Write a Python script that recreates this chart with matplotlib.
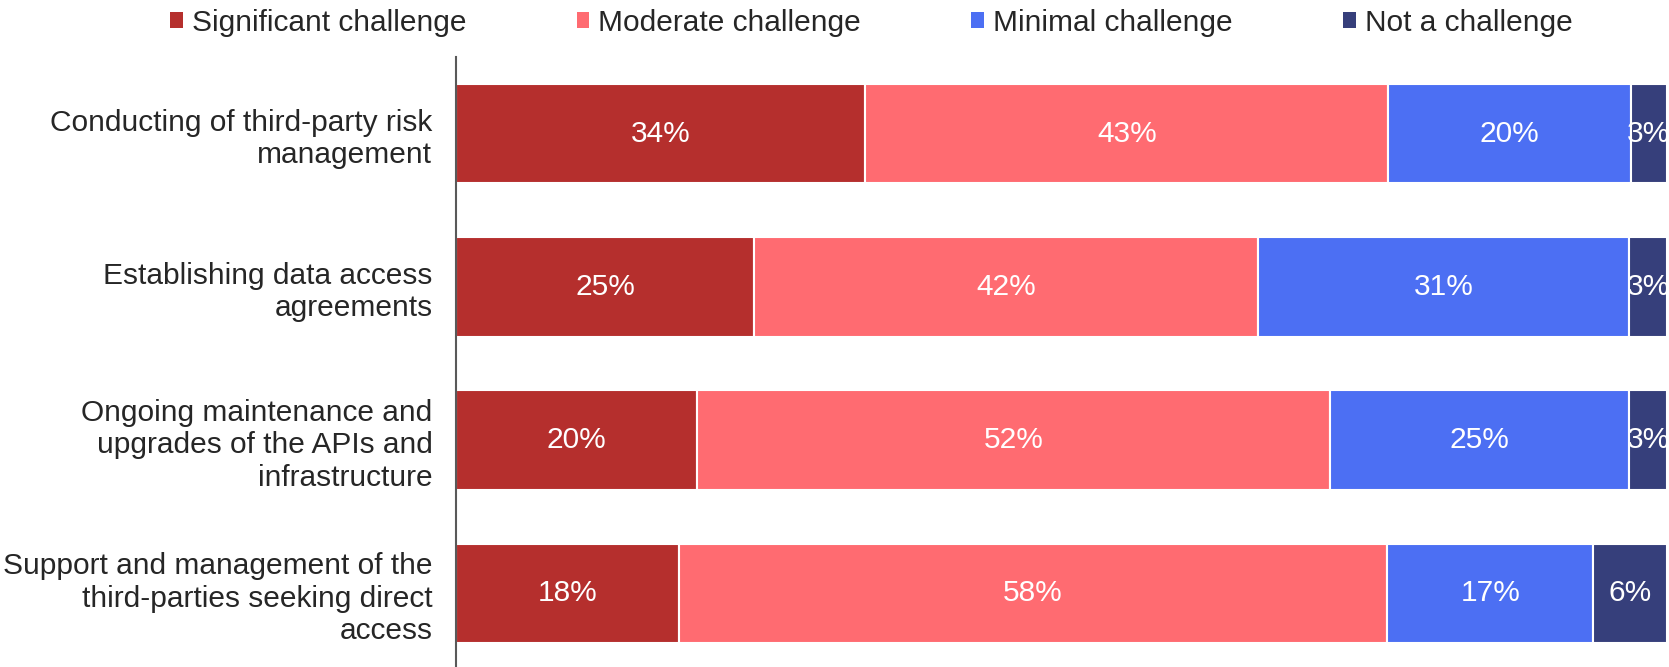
import matplotlib
matplotlib.use("Agg")
import matplotlib.pyplot as plt
from matplotlib.patches import Patch

plt.rcParams["font.family"] = ["Liberation Sans", "DejaVu Sans"]

categories = [
    "Conducting of third-party risk\nmanagement",
    "Establishing data access\nagreements",
    "Ongoing maintenance and\nupgrades of the APIs and\ninfrastructure",
    "Support and management of the\nthird-parties seeking direct\naccess",
]
series_names = ["Significant challenge", "Moderate challenge",
                "Minimal challenge", "Not a challenge"]
significant = [33.8, 24.6, 19.9, 18.4]
moderate = [43.2, 41.6, 52.3, 58.5]
minimal = [20.0, 30.7, 24.7, 17.0]
not_a_challenge = [3.0, 3.1, 3.1, 6.1]
colors = ["#B52F2D", "#FF6B71", "#4C6FF3", "#363F7B"]

series = [significant, moderate, minimal, not_a_challenge]

W, H = 1669, 667
fig = plt.figure(figsize=(W / 100, H / 100), dpi=100)
ax = fig.add_axes([456 / W, -3 / H, 1211 / W, 613 / H])

fs = 21.5
ypos = list(range(len(categories)))
left = [0.0] * len(categories)
for vals, color, name in zip(series, colors, series_names):
    bars = ax.barh(ypos, vals, left=left, height=0.65, color=color,
                   edgecolor="white", linewidth=1.5, label=name)
    for rect, v in zip(bars, vals):
        cx = rect.get_x() + rect.get_width() / 2
        cy = rect.get_y() + rect.get_height() / 2
        t = ax.text(cx, cy, f"{v:.0f}%", ha="center", va="center",
                    color="white", fontsize=fs)
        t.set_clip_path(rect)
    left = [l + v for l, v in zip(left, vals)]

ax.set_xlim(0, 100)
ax.set_ylim(3.5, -0.5)
ax.set_yticks(ypos)
ax.set_yticklabels(categories, fontsize=fs, color="#262626",
                   linespacing=1.2)
ax.tick_params(axis="y", length=0, pad=17)
ax.set_xticks([])
for s in ("top", "right", "bottom"):
    ax.spines[s].set_visible(False)
ax.spines["left"].set_color("#595959")
ax.spines["left"].set_linewidth(1.5)

handles = [Patch(facecolor=c, edgecolor="none") for c in colors]
fig.legend(handles, series_names, loc="center", bbox_to_anchor=(0.522, 0.966),
           ncol=4, frameon=False, fontsize=fs, handlelength=0.42,
           handleheight=0.42, handletextpad=0.3, columnspacing=3.7,
           labelcolor="#262626")

fig.savefig("out.png", dpi=100)
